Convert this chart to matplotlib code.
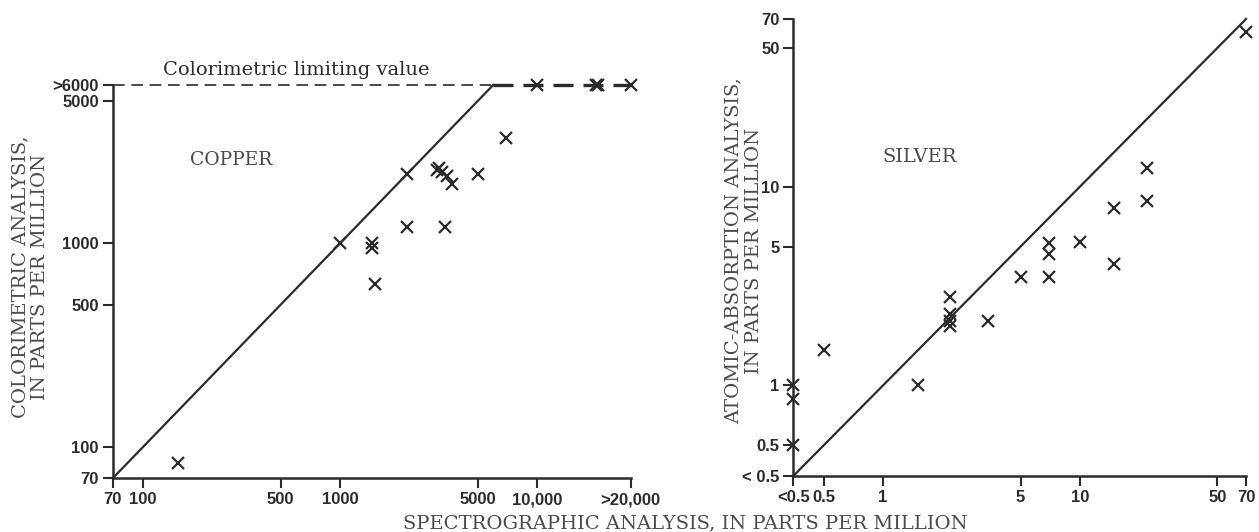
"""Colorimetric / atomic-absorption vs spectrographic analysis (copper, silver)."""

import matplotlib
matplotlib.use("Agg")
import matplotlib.pyplot as plt
import numpy as np

INK = "#2b2b2b"
LABEL = "#4a4a4a"
SERIF = ["DejaVu Serif"]
SANS = ["Liberation Sans", "DejaVu Sans"]

plt.rcParams.update({
    "font.family": SANS,
    "font.size": 12,
    "axes.edgecolor": INK,
    "xtick.color": INK,
    "ytick.color": INK,
})

# ── Data ─────────────────────────────────────────────────────────────────────
# ">6000" and ">20,000" are drawn at a nominal position past the last tick
CU_GT_Y = 6000
CU_GT_X = 30000
cu_spec = [150, 1000, 1450, 1450, 1500, 2200, 2200, 3100, 3200, 3300, 3500,
           3700, 3400, 5000, 7000, 10000, 20000, 20500, CU_GT_X]
cu_color = [83, 1000, 1000, 950, 630, 2200, 1200, 2300, 2350, 2250, 2150,
            1950, 1200, 2200, 3300, CU_GT_Y, CU_GT_Y, CU_GT_Y, CU_GT_Y]
cu_ticks = [70, 100, 500, 1000, 5000, 10000, CU_GT_X]
cu_xlabels = ["70", "100", "500", "1000", "5000", "10,000", ">20,000"]
cu_yticks = [70, 100, 500, 1000, 5000, CU_GT_Y]
cu_ylabels = ["70", "100", "500", "1000", "5000", ">6000"]

AG_LT = 0.35  # "<0.5"
ag_spec = [AG_LT, AG_LT, AG_LT, 0.5, 1.5, 2.2, 2.2, 2.2, 2.2, 3.4, 5, 7, 7,
           7, 10, 15, 15, 22, 22, 70]
ag_aa = [1.0, 0.85, 0.5, 1.5, 1.0, 2.8, 2.3, 2.1, 2.0, 2.1, 3.5, 3.5, 5.2,
         4.6, 5.3, 7.8, 4.1, 12.5, 8.5, 60]
ag_ticks = [AG_LT, 0.5, 1, 5, 10, 50, 70]
ag_xlabels = ["<0.5", "0.5", "1", "5", "10", "50", "70"]
ag_ylabels = ["< 0.5", "0.5", "1", "5", "10", "50", "70"]

fig = plt.figure(figsize=(12.59, 5.32), dpi=100)
ax1 = fig.add_axes([0.0895, 0.1009, 0.4115, 0.7393])
ax2 = fig.add_axes([0.6301, 0.1053, 0.3596, 0.859])


def style(ax):
    for s in ("top", "right"):
        ax.spines[s].set_visible(False)
    for s in ("left", "bottom"):
        ax.spines[s].set_linewidth(1.8)
    ax.set_xscale("log")
    ax.set_yscale("log")
    ax.minorticks_off()
    ax.tick_params(direction="out", length=7, width=1.5, pad=3,
                   labelsize=12)


# ── Copper ───────────────────────────────────────────────────────────────────
ax1.set_xlim(70, CU_GT_X)
ax1.set_ylim(70, CU_GT_Y)
style(ax1)
ax1.set_xticks(cu_ticks)
ax1.set_xticklabels(cu_xlabels, fontweight="bold")
ax1.set_yticks(cu_yticks)
ax1.set_yticklabels(cu_ylabels, fontweight="bold")

ax1.plot([70, CU_GT_Y], [70, CU_GT_Y], color=INK, lw=1.6, clip_on=False)
ax1.plot([70, CU_GT_Y], [CU_GT_Y, CU_GT_Y], color=INK, lw=1.2,
         dashes=(7, 4), clip_on=False)
ax1.plot([CU_GT_Y, CU_GT_X], [CU_GT_Y, CU_GT_Y], color=INK, lw=2.4,
         dashes=(6, 3), clip_on=False)
ax1.plot(cu_spec, cu_color, "x", color=INK, ms=8, mew=1.6, clip_on=False)

ax1.text(0.354, 1.025, "Colorimetric limiting value", transform=ax1.transAxes,
         ha="center", va="baseline", family=SERIF, fontsize=14, color=INK)
ax1.text(0.228, 0.809, "COPPER", transform=ax1.transAxes, ha="center",
         va="center", family=SERIF, fontsize=13.5, color=LABEL)
fig.text(0.0238, 0.479, "COLORIMETRIC ANALYSIS,\nIN PARTS PER MILLION",
         rotation=90, ha="center", va="center", family=SERIF, fontsize=14,
         color=LABEL, linespacing=1.15, multialignment="center")

# ── Silver ───────────────────────────────────────────────────────────────────
ax2.set_xlim(AG_LT, 70)
ax2.set_ylim(AG_LT, 70)
style(ax2)
ax2.set_xticks(ag_ticks)
ax2.set_xticklabels(ag_xlabels, fontweight="bold")
ax2.set_yticks(ag_ticks)
ax2.set_yticklabels(ag_ylabels, fontweight="bold")

ax2.plot([AG_LT, 70], [AG_LT, 70], color=INK, lw=1.6, clip_on=False)
ax2.plot(ag_spec, ag_aa, "x", color=INK, ms=8, mew=1.6, clip_on=False)
ax2.text(0.28, 0.698, "SILVER", transform=ax2.transAxes, ha="center",
         va="center", family=SERIF, fontsize=14, color=LABEL)
fig.text(0.5906, 0.528, "ATOMIC-ABSORPTION ANALYSIS,\nIN PARTS PER MILLION",
         rotation=90, ha="center", va="center", family=SERIF, fontsize=14,
         color=LABEL, linespacing=1.15, multialignment="center")

fig.text(0.544, 0.0075, "SPECTROGRAPHIC ANALYSIS, IN PARTS PER MILLION",
         ha="center", va="baseline", family=SERIF, fontsize=14, color=LABEL)

fig.savefig("out.png", dpi=100)
plt.close()
